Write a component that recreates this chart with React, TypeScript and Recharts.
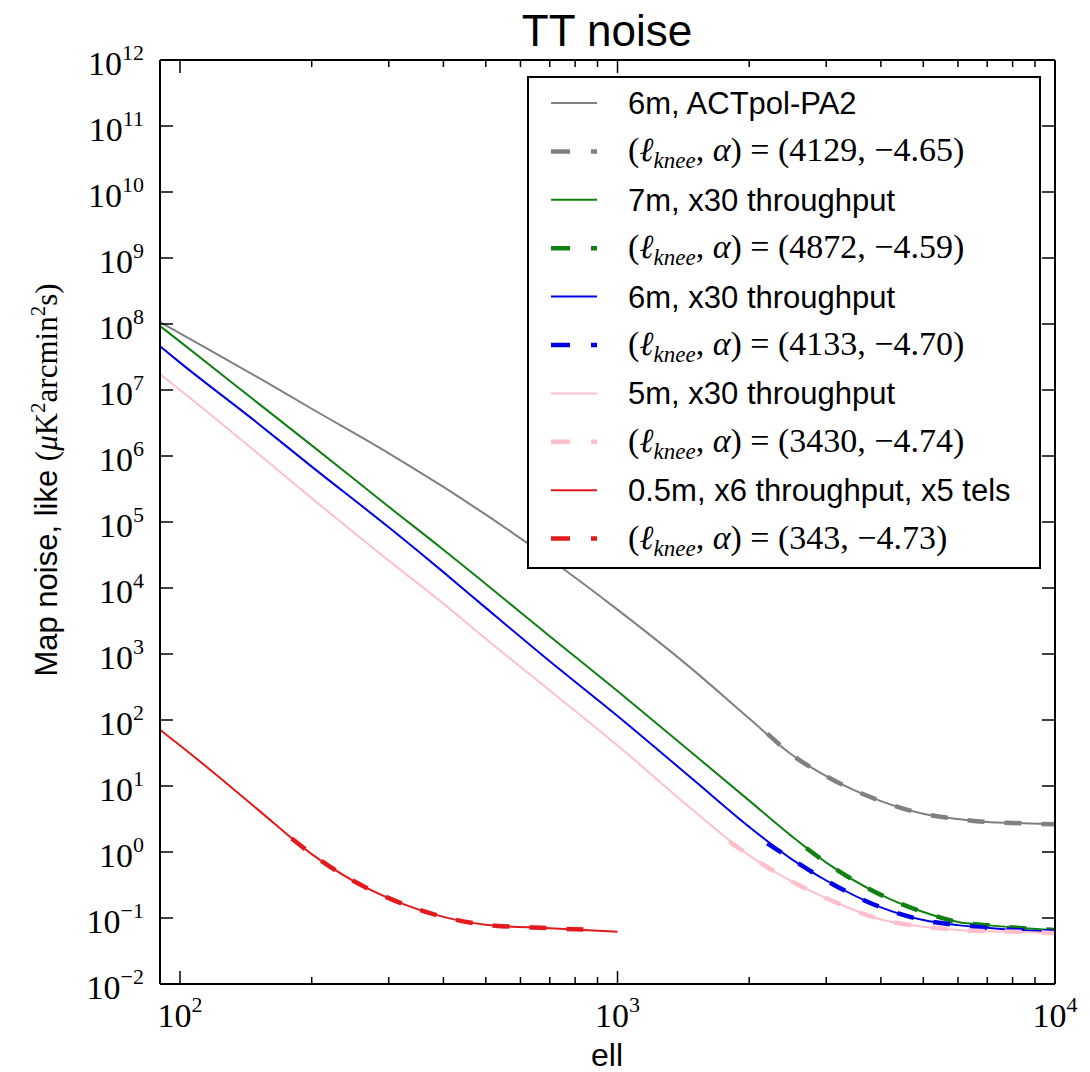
import React from 'react';
import { LineChart, Line, XAxis, YAxis, Legend } from 'recharts';

const W = 1090;
const H = 1072;

const ells = [90, 100, 150, 200, 300, 400, 500, 700, 1000, 1500, 2000, 2500, 3000, 4000, 5000, 6000, 7000, 8000, 10000];
const redElls = [90, 100, 120, 150, 200, 250, 300, 400, 500, 700, 1000];

// solid curves, uK^2 arcmin^2 s
const actpolPA2 = [1.07e8, 7.2e7, 1.58e7, 5.2e6, 1.1e6, 3.4e5, 1.29e5, 2.75e4, 4.7e3, 550, 105, 30, 14.1, 5.9, 3.8, 3.16, 2.85, 2.75, 2.63];
const sevenM = [9.3e7, 5.4e7, 6.5e6, 1.45e6, 1.7e5, 3.8e4, 1.15e4, 1.86e3, 275, 29.5, 6.0, 1.74, 0.69, 0.224, 0.123, 0.087, 0.078, 0.072, 0.066];
const sixM = [4.6e7, 2.6e7, 3.2e6, 6.9e5, 8.3e4, 1.74e4, 5.0e3, 776, 115, 12, 2.4, 0.78, 0.37, 0.145, 0.093, 0.078, 0.071, 0.066, 0.062];
const fiveM = [1.74e7, 1.0e7, 1.12e6, 2.3e5, 2.6e4, 5.8e3, 1.7e3, 280, 41, 4.1, 0.89, 0.36, 0.2, 0.095, 0.074, 0.066, 0.063, 0.062, 0.059];
const halfM = [71, 41, 15.5, 4.5, 0.93, 0.36, 0.2, 0.104, 0.079, 0.07, 0.062];

// fitted (ell_knee, alpha) curves, drawn dashed
const fitEllsGray = [2200, 2500, 3000, 4000, 5000, 6000, 7000, 8000, 10000];
const fitGray = [62, 30, 14.1, 5.9, 3.8, 3.16, 2.85, 2.75, 2.63];
const fitEllsGreen = [2700, 3000, 4000, 5000, 6000, 7000, 8000, 10000];
const fitGreen = [1.15, 0.69, 0.224, 0.123, 0.087, 0.078, 0.072, 0.066];
const fitEllsBlue = [2200, 2500, 3000, 4000, 5000, 6000, 7000, 8000, 10000];
const fitBlue = [1.35, 0.78, 0.37, 0.145, 0.093, 0.078, 0.071, 0.066, 0.062];
const fitEllsPink = [1800, 2000, 2500, 3000, 4000, 5000, 6000, 7000, 8000, 10000];
const fitPink = [1.45, 0.89, 0.36, 0.2, 0.095, 0.074, 0.066, 0.063, 0.062, 0.059];
const fitEllsRed = [180, 200, 250, 300, 400, 500, 700, 900];
const fitRed = [1.6, 0.93, 0.36, 0.2, 0.104, 0.079, 0.07, 0.066];

const kneeEll = [4129, 4872, 4133, 3430, 343];
const kneeAlpha = [-4.65, -4.59, -4.7, -4.74, -4.73];

const xMajor = [100, 1000, 10000];
const xMinor = [200, 300, 400, 500, 600, 700, 800, 900, 2000, 3000, 4000, 5000, 6000, 7000, 8000, 9000];
const yTicks = [1e-2, 1e-1, 1, 1e1, 1e2, 1e3, 1e4, 1e5, 1e6, 1e7, 1e8, 1e9, 1e10, 1e11, 1e12];

const SANS = '"Liberation Sans", Arial, sans-serif';
const SERIF = '"Liberation Serif", "DejaVu Serif", serif';

const zip = (xs: number[], ys: number[]) => xs.map((ell, i) => ({ ell, noise: ys[i] }));

type Series = {
  key: string;
  label: string;
  color: string;
  solid: { ell: number; noise: number }[];
  fit: { ell: number; noise: number }[];
};

const series: Series[] = [
  { key: 'pa2', label: '6m, ACTpol-PA2', color: '#808080', solid: zip(ells, actpolPA2), fit: zip(fitEllsGray, fitGray) },
  { key: '7m', label: '7m, x30 throughput', color: '#108010', solid: zip(ells, sevenM), fit: zip(fitEllsGreen, fitGreen) },
  { key: '6m', label: '6m, x30 throughput', color: '#0000e8', solid: zip(ells, sixM), fit: zip(fitEllsBlue, fitBlue) },
  { key: '5m', label: '5m, x30 throughput', color: '#ffc0cb', solid: zip(ells, fiveM), fit: zip(fitEllsPink, fitPink) },
  { key: '05m', label: '0.5m, x6 throughput, x5 tels', color: '#e31a1c', solid: zip(redElls, halfM), fit: zip(fitEllsRed, fitRed) },
];

const isMajor = (v: number) => {
  const e = Math.log10(v);
  return Math.abs(e - Math.round(e)) < 1e-6;
};
const expText = (v: number) => {
  const e = Math.round(Math.log10(v));
  return e < 0 ? `\u2212${-e}` : `${e}`;
};

function BottomTick({ x, y, payload }: any) {
  const v = payload.value;
  const major = isMajor(v);
  return (
    <g>
      <line x1={x} x2={x} y1={y} y2={y - (major ? 13 : 7)} stroke="#000" strokeWidth={1.5} />
      {major && (
        <text x={x} y={y + 43} textAnchor="middle" fontFamily={SERIF} fontSize={34} fill="#000">
          10
          <tspan dy={-15} fontSize={22}>
            {expText(v)}
          </tspan>
        </text>
      )}
    </g>
  );
}

function TopTick({ x, y, payload }: any) {
  const major = isMajor(payload.value);
  return <line x1={x} x2={x} y1={y} y2={y + (major ? 13 : 7)} stroke="#000" strokeWidth={1.5} />;
}

function LeftTick({ x, y, payload }: any) {
  const v = payload.value;
  return (
    <g>
      <line x1={x} x2={x + 13} y1={y} y2={y} stroke="#000" strokeWidth={1.5} />
      <text x={x - 16} y={y + 15} textAnchor="end" fontFamily={SERIF} fontSize={34} fill="#000">
        10
        <tspan dy={-15} fontSize={22}>
          {expText(v)}
        </tspan>
      </text>
    </g>
  );
}

function RightTick({ x, y }: any) {
  return <line x1={x} x2={x - 13} y1={y} y2={y} stroke="#000" strokeWidth={1.5} />;
}

const fmtAlpha = (a: number) => a.toFixed(2).replace('-', '\u2212');

function LegendBox() {
  const rows: { color: string; dashed: boolean; idx: number }[] = [];
  series.forEach((s, i) => {
    rows.push({ color: s.color, dashed: false, idx: i });
    rows.push({ color: s.color, dashed: true, idx: i });
  });
  return (
    <svg width={514} height={493} style={{ display: 'block' }}>
      <rect x={1} y={1} width={512} height={491} fill="#fff" stroke="#000" strokeWidth={2} />
      {rows.map((r, i) => {
        const cy = 27 + i * 48.4;
        return (
          <g key={i}>
            <line
              x1={24}
              x2={70}
              y1={cy}
              y2={cy}
              stroke={r.color}
              strokeWidth={r.dashed ? 4.5 : 2}
              strokeDasharray={r.dashed ? '19 21' : undefined}
            />
            {r.dashed ? (
              <text x={101} y={cy + 10} fontFamily={SERIF} fontSize={34} fill="#000">
                (<tspan fontStyle="italic">ℓ</tspan>
                <tspan fontStyle="italic" fontSize={23} dy={7}>
                  knee
                </tspan>
                <tspan dy={-7}>, </tspan>
                <tspan fontStyle="italic">α</tspan>) = ({kneeEll[r.idx]}, {fmtAlpha(kneeAlpha[r.idx])})
              </text>
            ) : (
              <text x={101} y={cy + 11} fontFamily={SANS} fontSize={31} fill="#000">
                {series[r.idx].label}
              </text>
            )}
          </g>
        );
      })}
    </svg>
  );
}

export default function App() {
  return (
    <div style={{ position: 'absolute', left: 0, top: 0, width: W, height: H, background: '#fff' }}>
      <LineChart width={W} height={H} margin={{ top: 50, right: 15, bottom: 38, left: 60 }}>
        <XAxis
          dataKey="ell"
          type="number"
          scale="log"
          domain={[90, 10000]}
          allowDataOverflow
          ticks={[...xMajor, ...xMinor]}
          interval={0}
          tick={<BottomTick />}
          tickLine={false}
          tickSize={0}
          tickMargin={0}
          height={50}
          axisLine={{ stroke: '#000', strokeWidth: 2 }}
        />
        <XAxis
          xAxisId="top"
          orientation="top"
          dataKey="ell"
          type="number"
          scale="log"
          domain={[90, 10000]}
          allowDataOverflow
          ticks={[...xMajor, ...xMinor]}
          interval={0}
          tick={<TopTick />}
          tickLine={false}
          tickSize={0}
          tickMargin={0}
          height={10}
          axisLine={{ stroke: '#000', strokeWidth: 2 }}
        />
        <YAxis
          dataKey="noise"
          type="number"
          scale="log"
          domain={[1e-2, 1e12]}
          allowDataOverflow
          ticks={yTicks}
          interval={0}
          tick={<LeftTick />}
          tickLine={false}
          tickSize={0}
          tickMargin={0}
          width={100}
          axisLine={{ stroke: '#000', strokeWidth: 2 }}
        />
        <YAxis
          yAxisId="right"
          orientation="right"
          dataKey="noise"
          type="number"
          scale="log"
          domain={[1e-2, 1e12]}
          allowDataOverflow
          ticks={yTicks}
          interval={0}
          tick={<RightTick />}
          tickLine={false}
          tickSize={0}
          tickMargin={0}
          width={20}
          axisLine={{ stroke: '#000', strokeWidth: 2 }}
        />
        {series.flatMap((s) => [
          <Line
            key={s.key}
            data={s.solid}
            dataKey="noise"
            name={s.label}
            type="monotone"
            stroke={s.color}
            strokeWidth={2}
            dot={false}
            activeDot={false}
            isAnimationActive={false}
          />,
          <Line
            key={s.key + '-fit'}
            data={s.fit}
            dataKey="noise"
            name={s.label + ' fit'}
            type="monotone"
            stroke={s.color}
            strokeWidth={4.5}
            strokeDasharray="17 20"
            dot={false}
            activeDot={false}
            isAnimationActive={false}
          />,
        ])}
        <Legend
          layout="vertical"
          align="center"
          verticalAlign="middle"
          content={() => <LegendBox />}
          wrapperStyle={{ left: 527, top: 76, width: 514, height: 493 }}
        />
      </LineChart>
      <svg width={W} height={H} style={{ position: 'absolute', left: 0, top: 0, pointerEvents: 'none' }}>
        <text x={607} y={46} textAnchor="middle" fontFamily={SANS} fontSize={44} fill="#000">
          TT noise
        </text>
        <text x={607} y={1066} textAnchor="middle" fontFamily={SANS} fontSize={32} fill="#000">
          ell
        </text>
        <text transform="translate(57 480) rotate(-90)" textAnchor="middle" fontFamily={SANS} fontSize={31} fill="#000">
          Map noise, like{' '}
          <tspan fontFamily={SERIF}>(</tspan>
          <tspan fontFamily={SERIF} fontStyle="italic">
            μ
          </tspan>
          <tspan fontFamily={SERIF}>K</tspan>
          <tspan fontFamily={SERIF} fontSize={21} dy={-12}>
            2
          </tspan>
          <tspan fontFamily={SERIF} dy={12}>
            arcmin
          </tspan>
          <tspan fontFamily={SERIF} fontSize={21} dy={-12}>
            2
          </tspan>
          <tspan fontFamily={SERIF} dy={12}>
            s)
          </tspan>
        </text>
      </svg>
    </div>
  );
}
